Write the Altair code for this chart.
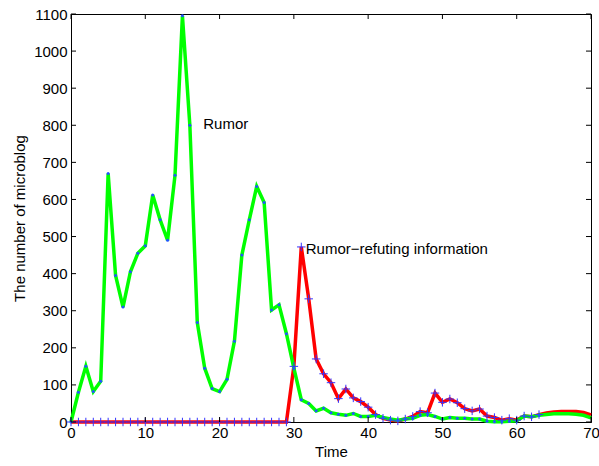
import altair as alt
import pandas as pd

time = list(range(71))
rumor = [0, 80, 150, 82, 110, 670, 395, 310, 405, 455, 475, 612, 545, 490, 665, 1095, 800, 268, 145, 90,
         82, 115, 218, 450, 545, 635, 592, 302, 316, 238, 145, 60, 50, 30, 37, 25, 21, 18, 23, 15,
         15, 18, 12, 8, 5, 8, 10, 18, 20, 15, 8, 12, 10, 10, 8, 8, 2, 1, 1, 2,
         3, 16, 14, 18, 20, 22, 22, 22, 21, 18, 11]
refute = [0] * 30 + [150, 472, 332, 170, 130, 106, 63, 89, 65, 55,
          40, 20, 10, 5, 3, 8, 15, 28, 25, 78, 53, 62, 52, 36, 30, 35, 16, 12, 5, 9,
          5, 16, 14, 20, 24, 27, 28, 28, 28, 26, 19]
marker_last = 63

x_ticks = list(range(0, 71, 10))
y_ticks = list(range(0, 1101, 100))

label_text = ["Rumor", "Rumor\u2212refuting information"]
label_x = [17.8, 31.6]
label_y = [803, 466]

W, H = 520, 408
FONT = "Liberation Sans"
FS = 15

df = pd.DataFrame({"t": time, "rumor": rumor, "refute": refute})
lab = pd.DataFrame({"text": label_text, "x": label_x, "y": label_y})
xt = pd.DataFrame({"v": x_ticks})
yt = pd.DataFrame({"v": y_ticks})

xs = alt.Scale(domain=[0, 70], nice=False, zero=False)
ys = alt.Scale(domain=[0, 1100], nice=False, zero=False)

Xaxis = alt.Axis(values=x_ticks, title="Time", ticks=False, grid=False,
                 format="d", labelOverlap=False, labelFlush=False, labelBound=False,
                 labelFont=FONT, labelFontSize=FS, labelColor="black",
                 titleFont=FONT, titleFontSize=FS, titleFontWeight="normal",
                 titleColor="black", domainColor="black", labelPadding=3,
                 titlePadding=4)
Yaxis = alt.Axis(values=y_ticks, title="The number of microblog", ticks=False, grid=False,
                 format="d", labelOverlap=False, labelFlush=False, labelBound=False,
                 labelFont=FONT, labelFontSize=FS, labelColor="black",
                 titleFont=FONT, titleFontSize=FS, titleFontWeight="normal",
                 titleColor="black", domainColor="black", labelPadding=4, titlePadding=6)


def xq(field):
    return alt.X(field, scale=xs, axis=Xaxis, title="Time")


def yq(field):
    return alt.Y(field, scale=ys, axis=Yaxis, title="The number of microblog")


base = alt.Chart(df)

red_line = base.mark_line(color="#ff0000", strokeWidth=3.5).encode(
    x=xq("t:Q"), y=yq("refute:Q"))
green_line = base.mark_line(color="#00ff00", strokeWidth=3.5).encode(
    x=xq("t:Q"), y=yq("rumor:Q"))

plus = "M-1,0L1,0M0,-1L0,1"
red_marks = base.transform_filter(alt.datum.t <= marker_last).mark_point(
    shape=plus, filled=False, color="#3333ff", strokeWidth=1, size=72, opacity=1).encode(
    x=xq("t:Q"), y=yq("refute:Q"))
green_marks = base.transform_filter(alt.datum.t <= marker_last).mark_circle(
    color="#2255ff", size=9, opacity=1).encode(
    x=xq("t:Q"), y=yq("rumor:Q"))

labels = alt.Chart(lab).mark_text(align="left", baseline="middle", font=FONT, fontSize=FS,
                                  color="black").encode(
    x=xq("x:Q"), y=yq("y:Q"), text="text:N")

xtick_b = alt.Chart(xt).mark_rule(color="black", strokeWidth=1).encode(
    x=xq("v:Q"), y=alt.value(H), y2=alt.value(H - 5))
xtick_t = alt.Chart(xt).mark_rule(color="black", strokeWidth=1).encode(
    x=xq("v:Q"), y=alt.value(0), y2=alt.value(5))
ytick_l = alt.Chart(yt).mark_rule(color="black", strokeWidth=1).encode(
    y=yq("v:Q"), x=alt.value(0), x2=alt.value(5))
ytick_r = alt.Chart(yt).mark_rule(color="black", strokeWidth=1).encode(
    y=yq("v:Q"), x=alt.value(W), x2=alt.value(W - 5))

chart = alt.layer(red_line, green_line, red_marks, green_marks, labels,
                  xtick_b, xtick_t, ytick_l, ytick_r).properties(
    width=W, height=H,
    autosize=alt.AutoSizeParams(type="none"),
    padding={"left": 71, "top": 14, "right": 8, "bottom": 44},
    background="white",
).configure_view(stroke="black", strokeWidth=1)

chart.save("out.html", embed_options={"renderer": "svg", "actions": False})
